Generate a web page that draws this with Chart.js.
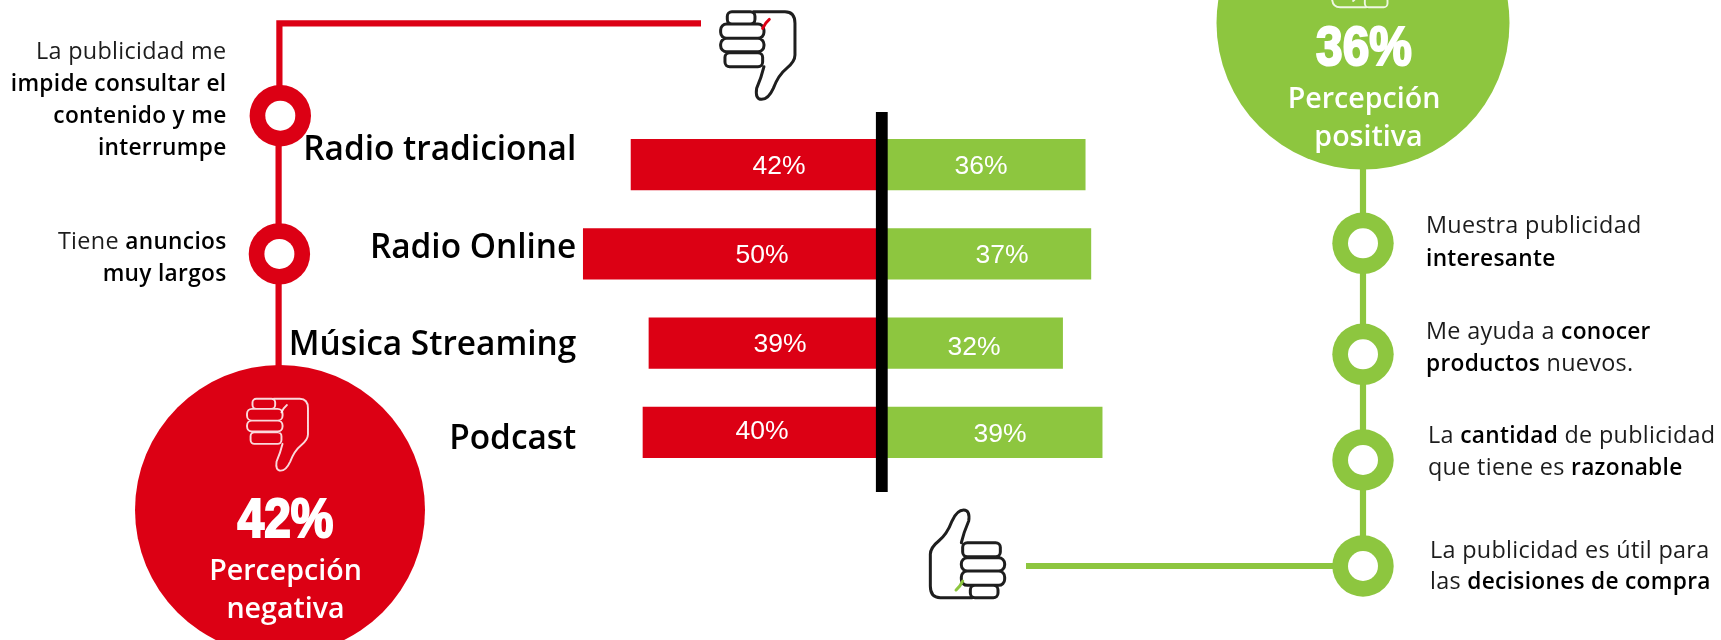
<!DOCTYPE html>
<html lang="es">
<head>
<meta charset="utf-8">
<title>Percepción de la publicidad</title>
<script src="https://cdn.jsdelivr.net/npm/chart.js@4"></script>
<style>
  html, body { margin: 0; padding: 0; background: #fff; overflow: hidden; }
  canvas { display: block; }
</style>
</head>
<body>
<canvas id="chart" width="1721" height="640"></canvas>
<script>
const categories = ["Radio tradicional", "Radio Online", "Música Streaming", "Podcast"];
const negativeValues = [42, 50, 39, 40];
const positiveValues = [36, 37, 32, 39];
const negativeTotal = "42%";
const positiveTotal = "36%";

// [text, bold] runs per line
const negativeNotes = [
    [[["La publicidad me", false]], [["impide consultar el", true]], [["contenido y me", true]], [["interrumpe", true]]],
    [[["Tiene ", false], ["anuncios", true]], [["muy largos", true]]]
];
const positiveNotes = [
    [[["Muestra publicidad", false]], [["interesante", true]]],
    [[["Me ayuda a ", false], ["conocer", true]], [["productos", true], [" nuevos.", false]]],
    [[["La ", false], ["cantidad", true], [" de publicidad", false]], [["que tiene es ", false], ["razonable", true]]],
    [[["La publicidad es útil para", false]], [["las ", false], ["decisiones de compra", true]]]
];

const RED = "#dc0014";
const GREEN = "#8dc63f";
const TEXT_FONT = '"Open Sans"';

// the two halves run on their own px-per-point
const zeroX = 881.8;
const negPxPerPoint = 5.97;
const posPxPerPoint = 5.65;
const chartWidth = 1721;

const categoryBaselines = [160, 258, 355, 449];
const negLabelPos = [[779, 167], [762, 256], [780, 345], [762, 432]];
const posLabelPos = [[981, 167], [1002, 256], [974, 348], [1000, 435]];
const negNoteBaselines = [[59, 91, 123, 155], [249, 281]];
const posNoteRows = [
    [1426, [233, 266]],
    [1426, [339, 371]],
    [1428, [443, 475]],
    [1430, [558, 589]]
];
const negRings = [[280.3, 115.7], [279.4, 253.9]];
const posRings = [[1363, 243.3], [1363, 354.3], [1363, 460], [1363, 566]];

function thumbPaths() {
    const outline = new Path2D("M190 35 L285 35 Q315 35 315 70 L315 165 Q315 185 290 205 Q265 225 250 265 Q235 298 215 298 Q195 298 200 265 Q215 230 222 200");
    outline.roundRect(112, 35, 83, 37, 14);
    outline.roundRect(92, 72, 130, 43, 18);
    outline.roundRect(92, 115, 130, 40, 18);
    outline.roundRect(105, 158, 113, 42, 14);
    return outline;
}

function drawThumb(ctx, cx, cy, size, rotation, color, lineWidth, accent) {
    ctx.save();
    ctx.translate(cx, cy);
    ctx.rotate(rotation);
    ctx.scale(size / 3, size / 3);
    ctx.translate(-203.5, -164);
    ctx.lineJoin = "round";
    ctx.lineCap = "round";
    ctx.strokeStyle = color;
    ctx.lineWidth = lineWidth;
    ctx.stroke(thumbPaths());
    ctx.strokeStyle = accent;
    ctx.beginPath();
    ctx.moveTo(218, 85);
    ctx.quadraticCurveTo(226, 68, 238, 58);
    ctx.stroke();
    ctx.restore();
}

function drawRing(ctx, x, y, color) {
    ctx.beginPath();
    ctx.arc(x, y, 30.7, 0, Math.PI * 2);
    ctx.fillStyle = color;
    ctx.fill();
    ctx.beginPath();
    ctx.arc(x, y, 15, 0, Math.PI * 2);
    ctx.fillStyle = "#fff";
    ctx.fill();
}

function runFont(bold) {
    return bold ? "600 22.7px " + TEXT_FONT : "400 23.4px " + TEXT_FONT;
}

function drawRuns(ctx, runs, x, y, align) {
    ctx.textBaseline = "alphabetic";
    ctx.textAlign = "left";
    ctx.letterSpacing = "0.3px";
    let width = 0;
    runs.forEach(([text, bold]) => {
        ctx.font = runFont(bold);
        width += ctx.measureText(text).width;
    });
    let cursor = align === "right" ? x - width : x;
    runs.forEach(([text, bold]) => {
        ctx.font = runFont(bold);
        ctx.fillStyle = bold ? "#000" : "#1c1c1c";
        ctx.fillText(text, cursor, y);
        cursor += ctx.measureText(text).width;
    });
    ctx.letterSpacing = "0px";
}

function drawBigPercent(ctx, text, cx, baseline) {
    ctx.save();
    ctx.translate(cx, baseline);
    ctx.scale(0.87, 1);
    ctx.font = 'bold 55px "Liberation Sans"';
    ctx.textAlign = "center";
    ctx.textBaseline = "alphabetic";
    ctx.fillStyle = "#fff";
    ctx.strokeStyle = "#fff";
    ctx.lineWidth = 2.2;
    ctx.fillText(text, 0, 0);
    ctx.strokeText(text, 0, 0);
    ctx.restore();
}

function drawCaption(ctx, text, cx, baseline) {
    ctx.font = "600 28.6px " + TEXT_FONT;
    ctx.textAlign = "center";
    ctx.textBaseline = "alphabetic";
    ctx.fillStyle = "#fff";
    ctx.fillText(text, cx, baseline);
}

function drawLine(ctx, color, x1, y1, x2, y2) {
    ctx.strokeStyle = color;
    ctx.lineWidth = 6.2;
    ctx.lineCap = "butt";
    ctx.beginPath();
    ctx.moveTo(x1, y1);
    ctx.lineTo(x2, y2);
    ctx.stroke();
}

const infographic = {
    id: "infographic",
    afterDatasetsDraw(chart) {
        const ctx = chart.ctx;
        const { xPos } = chart.scales;

        // black divider on the shared zero
        const zero = xPos.getPixelForValue(0);
        ctx.fillStyle = "#000";
        ctx.fillRect(zero - 5.9, 112, 11.8, 380);

        // red side: line, rings, circle
        ctx.strokeStyle = RED;
        ctx.lineWidth = 6.2;
        ctx.lineJoin = "miter";
        ctx.beginPath();
        ctx.moveTo(701, 23.4);
        ctx.lineTo(279.4, 23.4);
        ctx.lineTo(279.4, 140);
        ctx.stroke();
        drawLine(ctx, RED, 278.6, 140, 278.6, 370);
        negRings.forEach(([x, y]) => drawRing(ctx, x, y, RED));
        ctx.beginPath();
        ctx.arc(280, 510, 145, 0, Math.PI * 2);
        ctx.fillStyle = RED;
        ctx.fill();

        // green side
        drawLine(ctx, GREEN, 1363, 165, 1363, 566);
        drawLine(ctx, GREEN, 1026, 566, 1336, 566);
        posRings.forEach(([x, y]) => drawRing(ctx, x, y, GREEN));
        ctx.beginPath();
        ctx.arc(1363, 23, 146.5, 0, Math.PI * 2);
        ctx.fillStyle = GREEN;
        ctx.fill();

        drawThumb(ctx, 757.8, 54.7, 1, 0, "#1e1e1e", 9, RED);
        drawThumb(ctx, 967.5, 554.7, 1, Math.PI, "#1e1e1e", 9, GREEN);
        drawThumb(ctx, 277.5, 434, 0.82, 0, "rgba(255,255,255,0.85)", 7, "rgba(255,255,255,0.85)");
        drawThumb(ctx, 1362.5, -28, 0.82, Math.PI, "rgba(255,255,255,0.85)", 7, "rgba(255,255,255,0.85)");

        drawBigPercent(ctx, negativeTotal, 285.5, 537);
        drawCaption(ctx, "Percepción", 285.5, 579.5);
        drawCaption(ctx, "negativa", 285.5, 618);
        drawBigPercent(ctx, positiveTotal, 1364, 64.5);
        drawCaption(ctx, "Percepción", 1364, 108);
        drawCaption(ctx, "positiva", 1368.5, 145.5);

        // category names
        ctx.font = "600 33.4px " + TEXT_FONT;
        ctx.textAlign = "right";
        ctx.textBaseline = "alphabetic";
        ctx.fillStyle = "#000";
        categories.forEach((name, i) => ctx.fillText(name, 576.3, categoryBaselines[i]));

        // value labels inside the bars
        ctx.font = '400 26.5px "Liberation Sans"';
        ctx.textAlign = "center";
        ctx.textBaseline = "middle";
        ctx.fillStyle = "#fff";
        chart.data.datasets[0].data.forEach((v, i) => ctx.fillText(v + "%", negLabelPos[i][0], negLabelPos[i][1]));
        chart.data.datasets[1].data.forEach((v, i) => ctx.fillText(v + "%", posLabelPos[i][0], posLabelPos[i][1]));

        // side notes
        negativeNotes.forEach((note, n) => {
            note.forEach((runs, l) => drawRuns(ctx, runs, 226.5, negNoteBaselines[n][l], "right"));
        });
        positiveNotes.forEach((note, n) => {
            note.forEach((runs, l) => drawRuns(ctx, runs, posNoteRows[n][0], posNoteRows[n][1][l], "left"));
        });
    }
};

new Chart("chart", {
    type: "bar",
    data: {
        labels: categories,
        datasets: [
            { label: "Percepción negativa", data: negativeValues, xAxisID: "xNeg", backgroundColor: RED, grouped: false, barThickness: 50.5 },
            { label: "Percepción positiva", data: positiveValues, xAxisID: "xPos", backgroundColor: GREEN, grouped: false, barThickness: 50.5 }
        ]
    },
    options: {
        indexAxis: "y",
        responsive: false,
        animation: false,
        layout: { padding: { top: 120, bottom: 163, left: 0, right: 0 } },
        plugins: { legend: { display: false }, tooltip: { enabled: false }, title: { display: false } },
        scales: {
            y: { type: "category", display: false },
            xNeg: {
                type: "linear",
                display: false,
                reverse: true,
                min: -(chartWidth - zeroX) / negPxPerPoint,
                max: zeroX / negPxPerPoint
            },
            xPos: {
                type: "linear",
                display: false,
                min: -zeroX / posPxPerPoint,
                max: (chartWidth - zeroX) / posPxPerPoint
            }
        }
    },
    plugins: [infographic]
});
</script>
</body>
</html>
